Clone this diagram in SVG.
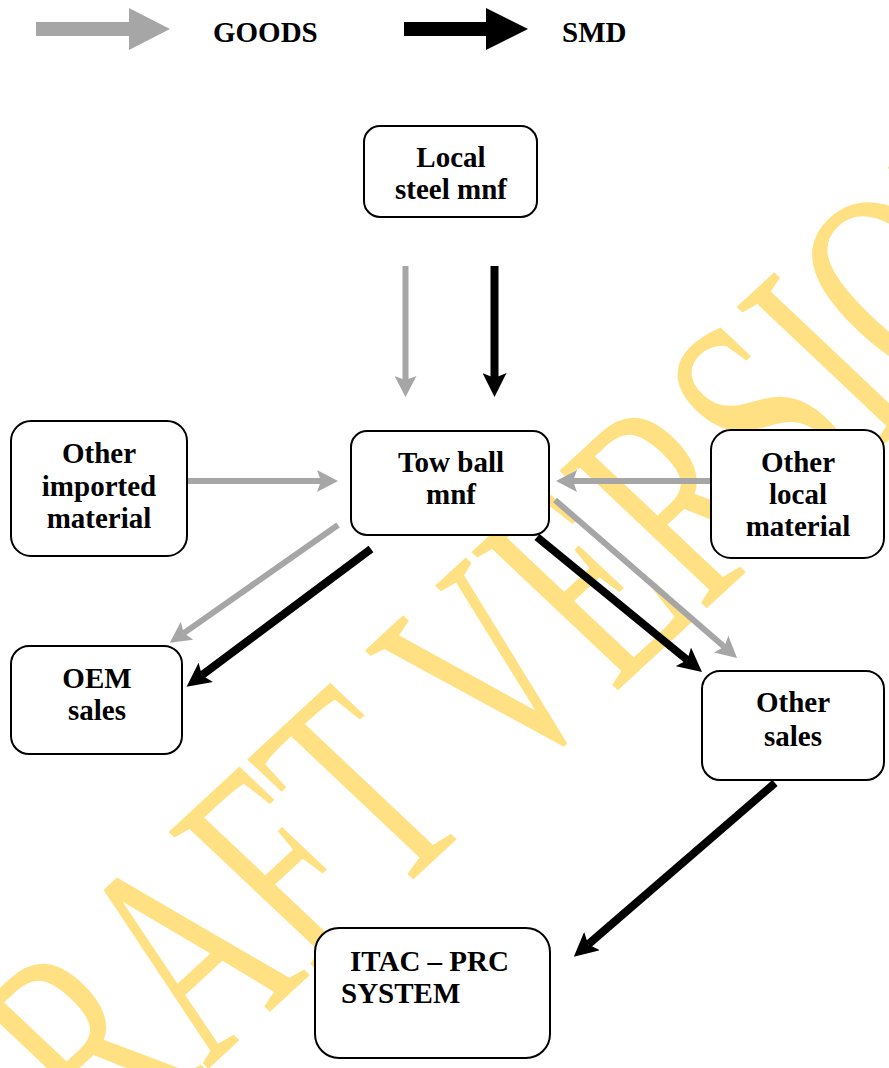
<svg xmlns="http://www.w3.org/2000/svg" width="889" height="1068" viewBox="0 0 889 1068">
<style>
.box{fill:#fff;stroke:#000;stroke-width:2}
.lbl{font-family:"Liberation Serif","Times New Roman",serif;font-weight:bold;font-size:29px;fill:#000}
.c{text-anchor:middle}
.g{stroke:#A6A6A6;stroke-width:6;fill:none}
.k{stroke:#000;stroke-width:8;fill:none}
.wm{font-family:"Liberation Serif","Times New Roman",serif;font-size:318px;fill:#FFE082}
</style>
<defs>
<marker id="hg" markerUnits="userSpaceOnUse" markerWidth="22" markerHeight="22" refX="4" refY="11" orient="auto">
<path d="M0,0 L21,11 L0,22 L4,11 Z" fill="#A6A6A6"/>
</marker>
<marker id="hk" markerUnits="userSpaceOnUse" markerWidth="24" markerHeight="24" refX="5" refY="12" orient="auto">
<path d="M0,0 L24,12 L0,24 L5,12 Z" fill="#000"/>
</marker>
</defs>
<rect width="889" height="1068" fill="#fff"/>
<text class="wm" transform="translate(7,1255) scale(1,0.934) rotate(-44.7) scale(0.637,1)">DRAFT VERSION</text>
<g id="legend">
<polygon points="36,22 129,22 129,8 170,29 129,50 129,36 36,36" fill="#A6A6A6"/>
<text class="lbl" x="213" y="42">GOODS</text>
<polygon points="404,22 486,22 486,8 528,29 486,50 486,36 404,36" fill="#000"/>
<text class="lbl" x="562" y="42">SMD</text>
</g>
<g id="connectors">
<line class="g" x1="405.5" y1="266" x2="405.5" y2="380" marker-end="url(#hg)"/>
<line class="k" x1="494.5" y1="266" x2="494.5" y2="378" marker-end="url(#hk)"/>
<line class="g" x1="187" y1="481" x2="321" y2="481" marker-end="url(#hg)"/>
<line class="g" x1="711" y1="481" x2="573" y2="481" marker-end="url(#hg)"/>
<line class="g" x1="338" y1="525" x2="183.8" y2="633.1" marker-end="url(#hg)"/>
<line class="k" x1="371" y1="549" x2="201.8" y2="675.3" marker-end="url(#hk)"/>
<line class="k" x1="537" y1="537" x2="687.3" y2="660" marker-end="url(#hk)"/>
<line class="g" x1="555" y1="500" x2="724.2" y2="646.8" marker-end="url(#hg)"/>
<line class="k" x1="775" y1="783" x2="588.2" y2="944.4" marker-end="url(#hk)"/>
</g>
<g id="local-steel">
<rect class="box" x="364" y="126" width="173" height="91" rx="16"/>
<text class="lbl c" x="451" y="167">Local</text>
<text class="lbl c" x="451" y="199">steel mnf</text>
</g>
<g id="tow-ball">
<rect class="box" x="351" y="431" width="198" height="104" rx="16"/>
<text class="lbl c" x="451" y="472">Tow ball</text>
<text class="lbl c" x="451" y="504">mnf</text>
</g>
<g id="other-imported">
<rect class="box" x="11" y="421" width="176" height="135" rx="20"/>
<text class="lbl c" x="99" y="463">Other</text>
<text class="lbl c" x="99" y="496">imported</text>
<text class="lbl c" x="99" y="528">material</text>
</g>
<g id="other-local">
<rect class="box" x="711" y="430" width="173" height="128" rx="20"/>
<text class="lbl c" x="798" y="472">Other</text>
<text class="lbl c" x="798" y="504">local</text>
<text class="lbl c" x="798" y="536">material</text>
</g>
<g id="oem-sales">
<rect class="box" x="11" y="646" width="171" height="108" rx="18"/>
<text class="lbl c" x="97" y="688">OEM</text>
<text class="lbl c" x="97" y="720">sales</text>
</g>
<g id="other-sales">
<rect class="box" x="702" y="671" width="182" height="109" rx="18"/>
<text class="lbl c" x="793" y="712">Other</text>
<text class="lbl c" x="793" y="746">sales</text>
</g>
<g id="itac">
<rect class="box" x="315" y="928" width="235" height="130" rx="24"/>
<text class="lbl" x="350" y="971">ITAC – PRC</text>
<text class="lbl" x="341" y="1003">SYSTEM</text>
</g>
</svg>
